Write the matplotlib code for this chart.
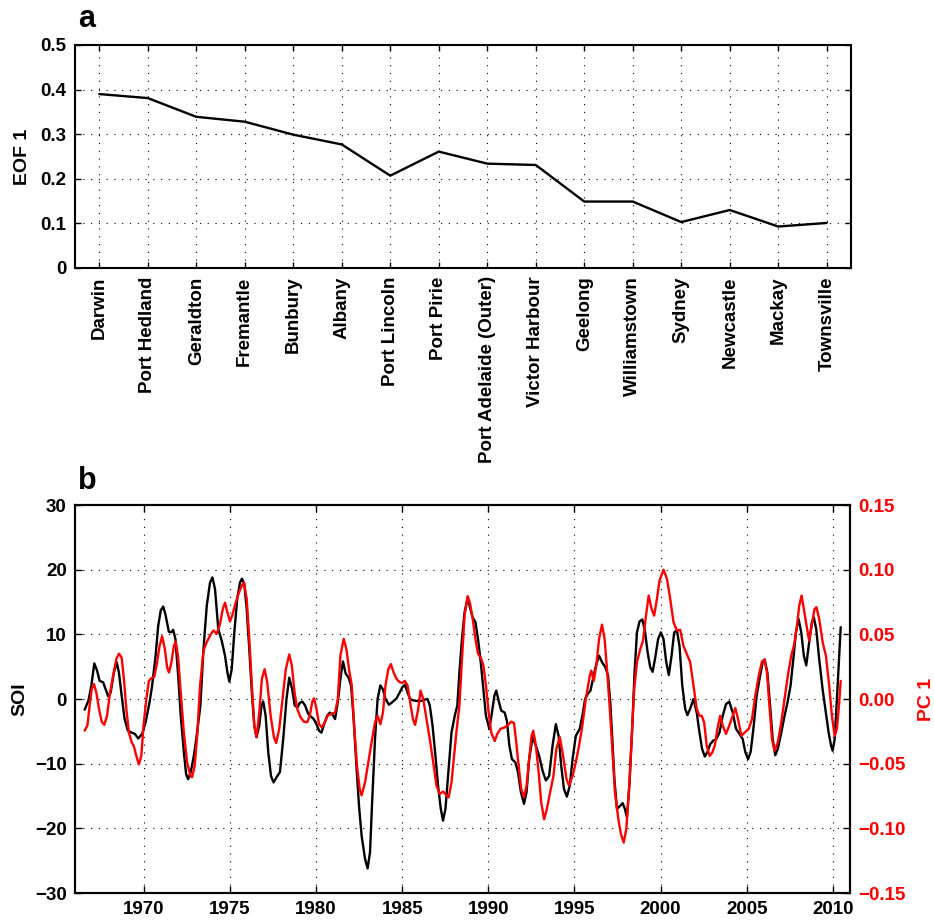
import numpy as np
import matplotlib
import matplotlib.pyplot as plt

matplotlib.use("Agg")

plt.rcParams['font.family'] = ['Liberation Sans', 'DejaVu Sans']
plt.rcParams['font.weight'] = 'bold'
plt.rcParams['axes.labelweight'] = 'bold'

# panel a: first EOF loading per tide gauge
stations = ["Darwin", "Port Hedland", "Geraldton", "Fremantle", "Bunbury", "Albany",
            "Port Lincoln", "Port Pirie", "Port Adelaide (Outer)", "Victor Harbour",
            "Geelong", "Williamstown", "Sydney", "Newcastle", "Mackay", "Townsville"]
eof1 = [0.390, 0.381, 0.339, 0.328, 0.299, 0.277, 0.207, 0.261,
        0.234, 0.231, 0.149, 0.149, 0.103, 0.130, 0.093, 0.101]

# panel b: SOI (left axis) and PC 1 (right axis), (year, value)
soi_pts = [
    (1966.56, -1.65), (1966.78, -0.26), (1966.95, 2.06), (1967.12, 5.5), (1967.28, 4.4),
    (1967.43, 2.8), (1967.63, 2.6), (1967.78, 1.5), (1967.93, 0.4), (1968.07, 1.0),
    (1968.26, 4.1), (1968.42, 5.7), (1968.55, 4.1), (1968.71, 0.5), (1968.88, -3.1),
    (1969.07, -4.9), (1969.29, -5.2), (1969.48, -5.4), (1969.67, -6.1), (1969.9, -5.4),
    (1970.1, -3.6), (1970.33, -0.5), (1970.48, 2.1), (1970.68, 6.7), (1970.83, 11.3),
    (1970.98, 13.7), (1971.12, 14.3), (1971.25, 13.1), (1971.45, 10.4), (1971.58, 10.3),
    (1971.7, 10.7), (1971.83, 9.3), (1971.99, 3.6), (1972.14, -2.6), (1972.32, -8.2),
    (1972.45, -11.6), (1972.57, -12.4), (1972.72, -11.3), (1972.9, -8.8), (1973.09, -5.2),
    (1973.28, -1.0), (1973.46, 7.7), (1973.65, 14.4), (1973.84, 18.0), (1973.98, 18.8),
    (1974.13, 17.0), (1974.32, 10.8), (1974.52, 9.0), (1974.71, 6.7), (1974.85, 4.1),
    (1974.96, 2.7), (1975.1, 4.6), (1975.25, 10.3), (1975.42, 15.5), (1975.58, 18.0),
    (1975.69, 18.6), (1975.83, 17.8), (1975.97, 13.9), (1976.12, 7.7), (1976.27, 1.0),
    (1976.41, -4.1), (1976.54, -5.9), (1976.7, -4.1), (1976.83, -1.0), (1976.93, -0.4),
    (1977.07, -2.6), (1977.22, -8.2), (1977.38, -11.9), (1977.53, -12.9), (1977.7, -12.1),
    (1977.9, -11.3), (1978.09, -6.2), (1978.28, 0.0), (1978.44, 3.3), (1978.61, 1.5),
    (1978.76, -1.0), (1978.92, -1.3), (1979.05, -0.6), (1979.2, -0.4), (1979.36, -1.0),
    (1979.54, -2.3), (1979.69, -2.7), (1979.86, -3.1), (1980.02, -3.9), (1980.17, -4.9),
    (1980.31, -5.2), (1980.44, -4.1), (1980.64, -2.6), (1980.79, -2.1), (1980.95, -2.4),
    (1981.1, -3.1), (1981.26, -0.5), (1981.41, 3.1), (1981.56, 5.8), (1981.72, 3.9),
    (1981.87, 3.4), (1982.03, 2.1), (1982.18, -3.1), (1982.34, -10.3), (1982.49, -16.5),
    (1982.64, -21.1), (1982.84, -24.7), (1982.99, -26.2), (1983.13, -23.7), (1983.26, -15.5),
    (1983.42, -6.2), (1983.57, 0.0), (1983.73, 2.1), (1983.88, 1.5), (1984.03, 0.0),
    (1984.23, -0.9), (1984.42, -0.5), (1984.67, 0.1), (1984.85, 1.0), (1985.0, 1.8),
    (1985.15, 2.2), (1985.31, 1.0), (1985.46, 0.0), (1985.63, -0.2), (1985.83, -0.3),
    (1986.08, -0.3), (1986.31, -0.1), (1986.47, 0.0), (1986.6, -1.0), (1986.76, -4.1),
    (1986.93, -8.8), (1987.08, -13.4), (1987.24, -17.0), (1987.37, -18.8), (1987.51, -17.0),
    (1987.66, -11.9), (1987.86, -5.2), (1988.05, -2.6), (1988.2, -1.0), (1988.32, 4.1),
    (1988.47, 9.3), (1988.62, 13.4), (1988.8, 15.7), (1988.93, 14.2), (1989.09, 12.6),
    (1989.25, 11.9), (1989.4, 9.3), (1989.56, 5.7), (1989.71, 1.5), (1989.86, -2.6),
    (1990.06, -4.6), (1990.21, -2.1), (1990.35, 0.5), (1990.46, 1.3), (1990.6, -0.3),
    (1990.75, -1.8), (1990.95, -2.1), (1991.08, -3.4), (1991.22, -7.2), (1991.37, -9.3),
    (1991.57, -9.8), (1991.72, -11.3), (1991.89, -14.4), (1992.07, -16.2), (1992.22, -14.4),
    (1992.37, -9.3), (1992.57, -5.9), (1992.76, -7.2), (1992.95, -8.8), (1993.15, -11.1),
    (1993.34, -12.6), (1993.53, -11.9), (1993.73, -7.2), (1993.92, -3.9), (1994.08, -5.7),
    (1994.23, -10.3), (1994.39, -13.9), (1994.56, -15.1), (1994.73, -13.4), (1994.89, -9.3),
    (1995.08, -5.7), (1995.31, -4.6), (1995.46, -2.6), (1995.62, 0.0), (1995.77, 0.8),
    (1995.93, 1.3), (1996.08, 3.1), (1996.25, 5.2), (1996.43, 6.7), (1996.6, 5.7),
    (1996.8, 4.9), (1996.95, 3.6), (1997.08, -0.5), (1997.2, -6.2), (1997.32, -12.4),
    (1997.47, -17.0), (1997.66, -16.5), (1997.8, -16.1), (1997.93, -17.0), (1998.05, -18.3),
    (1998.2, -12.9), (1998.36, -4.1), (1998.49, 4.1), (1998.63, 10.3), (1998.78, 12.0),
    (1998.94, 12.3), (1999.09, 10.6), (1999.25, 7.2), (1999.4, 4.9), (1999.54, 4.2),
    (1999.69, 6.4), (1999.86, 9.3), (2000.02, 10.3), (2000.17, 9.3), (2000.33, 5.7),
    (2000.48, 3.7), (2000.64, 6.7), (2000.79, 10.3), (2000.95, 10.6), (2001.1, 8.2),
    (2001.26, 2.1), (2001.43, -1.5), (2001.56, -2.5), (2001.72, -1.5), (2001.91, 0.0),
    (2002.1, -2.1), (2002.26, -5.2), (2002.41, -7.7), (2002.57, -8.9), (2002.72, -8.2),
    (2002.88, -7.0), (2003.07, -6.4), (2003.22, -6.3), (2003.42, -5.2), (2003.61, -2.6),
    (2003.8, -0.8), (2003.99, -0.4), (2004.19, -2.1), (2004.38, -4.6), (2004.58, -5.4),
    (2004.77, -6.2), (2004.92, -8.2), (2005.08, -9.3), (2005.23, -8.2), (2005.39, -4.6),
    (2005.58, 0.5), (2005.78, 3.6), (2005.93, 5.7), (2006.05, 6.1), (2006.2, 4.1),
    (2006.36, -1.0), (2006.51, -6.2), (2006.66, -8.7), (2006.81, -7.7), (2007.01, -5.2),
    (2007.2, -2.6), (2007.39, -0.3), (2007.55, 2.1), (2007.71, 6.2), (2007.86, 10.3),
    (2008.01, 12.4), (2008.17, 10.3), (2008.32, 6.7), (2008.46, 5.2), (2008.63, 8.8),
    (2008.79, 11.9), (2008.9, 12.6), (2009.04, 10.8), (2009.21, 6.2), (2009.41, 1.5),
    (2009.6, -2.1), (2009.76, -5.2), (2009.9, -7.2), (2009.99, -8.0), (2010.11, -6.2),
    (2010.24, 0.0), (2010.36, 6.2), (2010.46, 11.1),
]

pc1_pts = [
    (1966.56, -0.0245), (1966.72, -0.0205), (1966.85, -0.005), (1966.97, 0.0075), (1967.1, 0.0115),
    (1967.24, 0.005), (1967.39, -0.0075), (1967.55, -0.0175), (1967.7, -0.020), (1967.86, -0.013),
    (1968.01, 0.0025), (1968.21, 0.018), (1968.4, 0.031), (1968.55, 0.035), (1968.71, 0.032),
    (1968.84, 0.0155), (1968.98, -0.0075), (1969.13, -0.026), (1969.29, -0.0335), (1969.42, -0.0365),
    (1969.56, -0.044), (1969.71, -0.0505), (1969.85, -0.044), (1969.98, -0.0205), (1970.14, 0.0),
    (1970.29, 0.014), (1970.42, 0.016), (1970.6, 0.017), (1970.75, 0.027), (1970.91, 0.041),
    (1971.06, 0.0485), (1971.22, 0.0385), (1971.35, 0.0245), (1971.46, 0.0205), (1971.6, 0.0285),
    (1971.74, 0.041), (1971.85, 0.0445), (1971.99, 0.032), (1972.14, 0.005), (1972.32, -0.026),
    (1972.51, -0.049), (1972.7, -0.0595), (1972.8, -0.0605), (1972.95, -0.0515), (1973.1, -0.0275),
    (1973.26, 0.010), (1973.46, 0.0375), (1973.65, 0.044), (1973.84, 0.049), (1974.03, 0.053),
    (1974.23, 0.0505), (1974.42, 0.058), (1974.58, 0.0695), (1974.71, 0.0745), (1974.85, 0.067),
    (1975.0, 0.060), (1975.15, 0.0655), (1975.31, 0.0735), (1975.48, 0.081), (1975.68, 0.0875),
    (1975.81, 0.090), (1975.97, 0.0775), (1976.12, 0.0465), (1976.27, 0.0105), (1976.41, -0.0205),
    (1976.54, -0.0295), (1976.7, -0.0105), (1976.85, 0.0155), (1977.01, 0.023), (1977.16, 0.013),
    (1977.36, -0.013), (1977.55, -0.0295), (1977.68, -0.034), (1977.86, -0.023), (1978.05, 0.0),
    (1978.24, 0.023), (1978.44, 0.0345), (1978.59, 0.026), (1978.75, 0.005), (1978.9, -0.0075),
    (1979.09, -0.014), (1979.29, -0.0175), (1979.48, -0.018), (1979.63, -0.013), (1979.79, -0.0015),
    (1979.88, 0.0005), (1980.02, -0.0075), (1980.17, -0.0195), (1980.33, -0.022), (1980.5, -0.018),
    (1980.69, -0.0125), (1980.91, -0.0115), (1981.1, -0.0105), (1981.26, 0.0), (1981.41, 0.0335),
    (1981.6, 0.0465), (1981.76, 0.0385), (1981.91, 0.023), (1982.07, 0.0105), (1982.22, -0.023),
    (1982.37, -0.0515), (1982.53, -0.0695), (1982.64, -0.0745), (1982.84, -0.0645), (1983.03, -0.049),
    (1983.22, -0.0335), (1983.42, -0.018), (1983.57, -0.013), (1983.73, -0.0195), (1983.88, -0.0105),
    (1984.03, 0.0105), (1984.19, 0.023), (1984.34, 0.027), (1984.5, 0.0205), (1984.67, 0.0155),
    (1984.85, 0.013), (1985.0, 0.0125), (1985.15, 0.014), (1985.31, 0.0105), (1985.46, -0.0025),
    (1985.62, -0.0155), (1985.75, -0.020), (1985.93, -0.0075), (1986.06, 0.0065), (1986.22, 0.0),
    (1986.41, -0.0155), (1986.6, -0.031), (1986.8, -0.049), (1986.99, -0.067), (1987.18, -0.0735),
    (1987.37, -0.0715), (1987.57, -0.0745), (1987.7, -0.076), (1987.86, -0.0645), (1988.0, -0.045),
    (1988.15, -0.025), (1988.32, -0.005), (1988.47, 0.031), (1988.62, 0.0645), (1988.8, 0.0795),
    (1988.93, 0.0745), (1989.09, 0.062), (1989.25, 0.0465), (1989.4, 0.035), (1989.56, 0.032),
    (1989.71, 0.026), (1989.86, 0.0105), (1990.02, -0.0105), (1990.17, -0.026), (1990.37, -0.0325),
    (1990.52, -0.027), (1990.71, -0.023), (1990.95, -0.022), (1991.14, -0.020), (1991.33, -0.0175),
    (1991.49, -0.0185), (1991.6, -0.031), (1991.76, -0.0515), (1991.91, -0.0695), (1992.07, -0.076),
    (1992.22, -0.067), (1992.37, -0.0465), (1992.51, -0.0285), (1992.61, -0.0245), (1992.76, -0.036),
    (1992.92, -0.0565), (1993.07, -0.080), (1993.24, -0.093), (1993.4, -0.085), (1993.59, -0.072),
    (1993.78, -0.0595), (1993.95, -0.0385), (1994.15, -0.0295), (1994.34, -0.044), (1994.54, -0.062),
    (1994.69, -0.067), (1994.89, -0.0595), (1995.08, -0.049), (1995.27, -0.036), (1995.46, -0.0205),
    (1995.66, 0.0), (1995.89, 0.018), (1995.98, 0.022), (1996.12, 0.014), (1996.27, 0.026),
    (1996.43, 0.0465), (1996.6, 0.0575), (1996.75, 0.0465), (1996.89, 0.023), (1997.04, -0.005),
    (1997.2, -0.0385), (1997.35, -0.072), (1997.55, -0.093), (1997.7, -0.1045), (1997.86, -0.111),
    (1998.01, -0.1005), (1998.17, -0.0695), (1998.32, -0.031), (1998.47, 0.0075), (1998.63, 0.0285),
    (1998.82, 0.0385), (1998.98, 0.045), (1999.13, 0.062), (1999.31, 0.080), (1999.48, 0.0695),
    (1999.63, 0.0645), (1999.79, 0.0775), (1999.94, 0.0915), (2000.17, 0.100), (2000.37, 0.093),
    (2000.56, 0.0775), (2000.75, 0.0595), (2000.95, 0.053), (2001.14, 0.0535), (2001.33, 0.041),
    (2001.52, 0.035), (2001.72, 0.0285), (2001.91, 0.0105), (2002.1, -0.0075), (2002.26, -0.013),
    (2002.39, -0.013), (2002.53, -0.018), (2002.68, -0.036), (2002.85, -0.044), (2003.0, -0.0415),
    (2003.15, -0.036), (2003.3, -0.023), (2003.46, -0.013), (2003.61, -0.0205), (2003.8, -0.027),
    (2003.99, -0.0205), (2004.19, -0.013), (2004.34, -0.007), (2004.5, -0.0155), (2004.69, -0.0285),
    (2004.88, -0.026), (2005.12, -0.023), (2005.31, -0.0155), (2005.5, 0.0025), (2005.7, 0.018),
    (2005.89, 0.029), (2006.03, 0.0305), (2006.18, 0.0205), (2006.32, -0.005), (2006.47, -0.031),
    (2006.62, -0.040), (2006.81, -0.0335), (2007.01, -0.018), (2007.2, 0.0), (2007.39, 0.018),
    (2007.59, 0.0335), (2007.74, 0.041), (2007.9, 0.054), (2008.05, 0.072), (2008.19, 0.080),
    (2008.32, 0.0695), (2008.48, 0.0565), (2008.63, 0.045), (2008.79, 0.058), (2008.94, 0.0695),
    (2009.05, 0.071), (2009.21, 0.062), (2009.41, 0.044), (2009.6, 0.0335), (2009.79, 0.0105),
    (2009.95, -0.013), (2010.11, -0.0285), (2010.24, -0.023), (2010.36, -0.005), (2010.46, 0.014),
]

soi_ticks = [-30, -20, -10, 0, 10, 20, 30]
pc1_ticks = [-0.15, -0.10, -0.05, 0.0, 0.05, 0.10, 0.15]
year_ticks = [1970, 1975, 1980, 1985, 1990, 1995, 2000, 2005, 2010]
eof_ticks = [0, 0.1, 0.2, 0.3, 0.4, 0.5]

W, H = 934, 922
grid_kw = dict(color='black', linestyle=(0, (1, 6)), linewidth=0.8)
line_kw = dict(lw=1.7, solid_joinstyle='round', solid_capstyle='round')
fs_tick = 13.5
fs_label = 14

fig = plt.figure(figsize=(W / 100, H / 100), dpi=100)

# ---- panel a
ax1 = fig.add_axes([75 / W, 1 - 268 / H, 776 / W, 223 / H])
xs = np.arange(1, len(stations) + 1)
ax1.plot(xs, eof1, color='black', **line_kw)
ax1.set_xlim(0.5, 16.5)
ax1.set_ylim(0, 0.5)
ax1.set_xticks(xs)
ax1.set_xticklabels(stations, rotation=90, fontsize=fs_tick)
ax1.set_yticks(eof_ticks)
ax1.set_yticklabels(['0', '0.1', '0.2', '0.3', '0.4', '0.5'], fontsize=fs_tick)
ax1.set_ylabel('EOF 1', fontsize=fs_label, labelpad=7)
ax1.grid(True, **grid_kw)
ax1.tick_params(direction='in', top=True, right=True, length=4, width=1, pad=6)

# ---- panel b
ax2 = fig.add_axes([75 / W, 1 - 893 / H, 775 / W, 388 / H])
soi = np.array(soi_pts)
pc1 = np.array(pc1_pts)
ax2.plot(soi[:, 0], soi[:, 1], color='black', **line_kw)
ax2.set_xlim(1966, 2011)
ax2.set_ylim(-30, 30)
ax2.set_xticks(year_ticks)
ax2.set_yticks(soi_ticks)
ax2.tick_params(labelsize=fs_tick, direction='in', top=True, length=5, width=1, pad=6)
ax2.set_ylabel('SOI', fontsize=fs_label, labelpad=5)
ax2.grid(True, **grid_kw)

ax3 = ax2.twinx()
ax3.plot(pc1[:, 0], pc1[:, 1], color='red', **line_kw)
ax3.set_ylim(-0.15, 0.15)
ax3.set_yticks(pc1_ticks)
ax3.set_yticklabels([f'{v:.2f}'.replace('-', '\u2212') for v in pc1_ticks])
ax3.tick_params(labelsize=fs_tick, labelcolor='red', direction='in', length=5, width=1, pad=6)
ax3.set_ylabel('PC 1', color='red', fontsize=fs_label, labelpad=9)

for ax in (ax1, ax2, ax3):
    for s in ax.spines.values():
        s.set_linewidth(1.5)

fig.text(78 / W, 1 - 27 / H, 'a', fontsize=22, fontweight='bold', va='baseline')
fig.text(78 / W, 1 - 489 / H, 'b', fontsize=22, fontweight='bold', va='baseline')

fig.savefig('out.png', dpi=100)
